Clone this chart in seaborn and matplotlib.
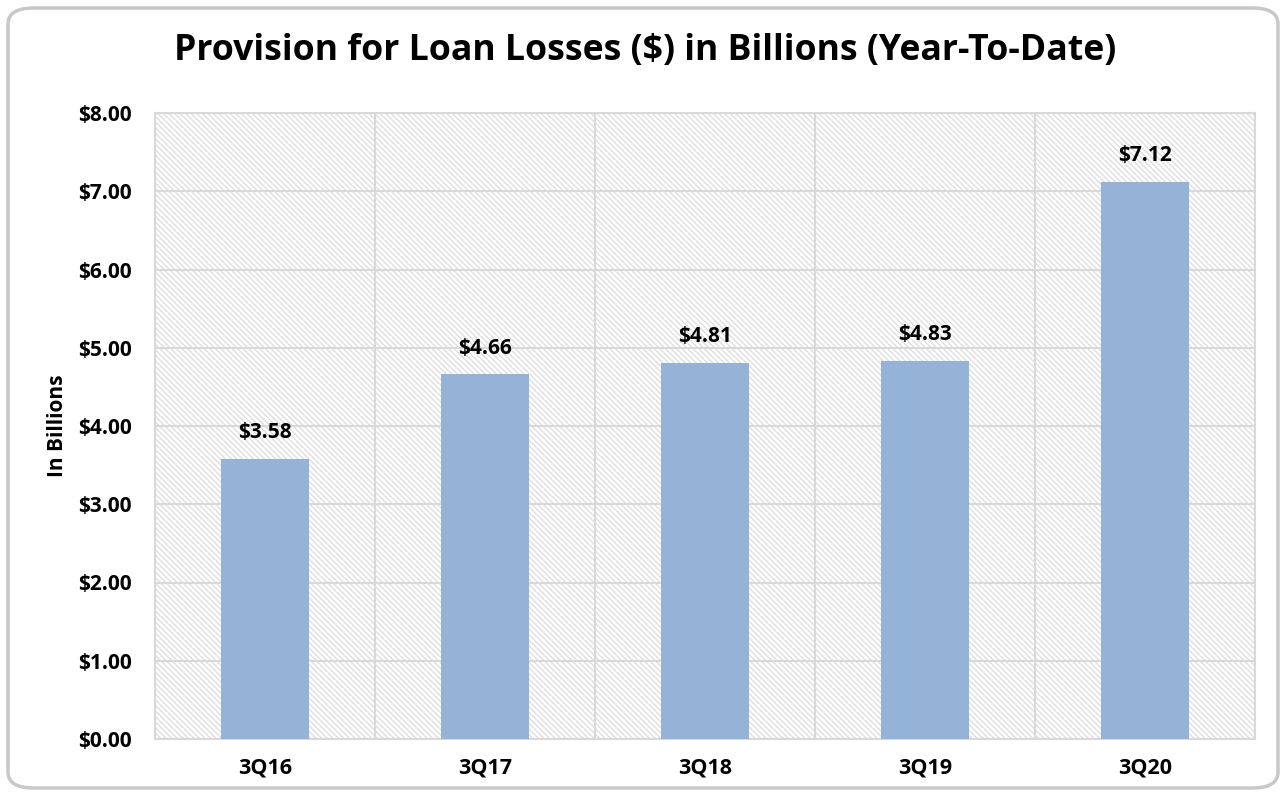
import matplotlib
matplotlib.use("Agg")
import matplotlib.pyplot as plt
from matplotlib.patches import FancyBboxPatch
import seaborn as sns
import pandas as pd

quarters = ["3Q16", "3Q17", "3Q18", "3Q19", "3Q20"]
provision = [3.58, 4.66, 4.81, 4.83, 7.12]
yticks = [0, 1, 2, 3, 4, 5, 6, 7, 8]

df = pd.DataFrame(dict(Quarter=quarters, Value=provision))

sns.set_style("white")
plt.rcParams["font.family"] = ["Open Sans", "DejaVu Sans"]
plt.rcParams["hatch.color"] = "#dcdcdc"
plt.rcParams["hatch.linewidth"] = 0.9
plt.rcParams["text.color"] = "black"
plt.rcParams["axes.labelcolor"] = "black"
plt.rcParams["xtick.color"] = "black"
plt.rcParams["ytick.color"] = "black"

fig = plt.figure(figsize=(12.86, 7.96), dpi=100)
ax = fig.add_axes([155 / 1286, 1 - 739 / 796, 1100 / 1286, 626 / 796])

# rounded frame around the chart
frame = FancyBboxPatch((8 / 1286, 8 / 796), 1270 / 1286, 780 / 796,
                       boxstyle="round,pad=0,rounding_size=0.02",
                       transform=fig.transFigure, facecolor="white",
                       edgecolor="#c8c8c8", linewidth=2.5, zorder=-10)
fig.patches.append(frame)

ax.patch.set_facecolor("white")
ax.patch.set_hatch("\\\\\\\\\\\\")
ax.patch.set_edgecolor("#dcdcdc")

sns.barplot(data=df, x="Quarter", y="Value", color="#95b3d7", width=0.4,
            saturation=1, ax=ax, zorder=3, edgecolor="none", linewidth=0)

ax.set_ylim(0, 8)
ax.set_xlim(-0.5, 4.5)
ax.set_yticks(yticks)
ax.set_yticklabels([f"${v:.2f}" for v in yticks])
ax.set_xticks(range(len(quarters)))
ax.set_xticks([i - 0.5 for i in range(len(quarters) + 1)], minor=True)
ax.grid(axis="y", color="#d9d9d9", linewidth=1.5, zorder=1)
ax.grid(axis="x", which="minor", color="#d9d9d9", linewidth=1.5, zorder=1)
ax.set_axisbelow(True)
for s in ax.spines.values():
    s.set_color("#d9d9d9")
    s.set_linewidth(1.5)
ax.tick_params(axis="both", which="both", length=0)
ax.tick_params(axis="y", pad=17, labelsize=15)
ax.tick_params(axis="x", pad=13, labelsize=15.5)
for lab in ax.get_xticklabels() + ax.get_yticklabels():
    lab.set_fontweight("bold")

ax.set_xlabel("")
ax.set_ylabel("In Billions", fontsize=15, fontweight="bold")
ax.yaxis.set_label_coords(-0.079, 0.5)

for i, v in enumerate(provision):
    ax.text(i, v + 0.2, f"${v:.2f}", ha="center", va="bottom",
            fontsize=15, fontweight="bold")

fig.text(645 / 1286, 1 - 51 / 796, "Provision for Loan Losses ($) in Billions (Year-To-Date)",
         ha="center", va="center", fontsize=25.7, fontweight="bold")

fig.savefig("out.png", dpi=100)
